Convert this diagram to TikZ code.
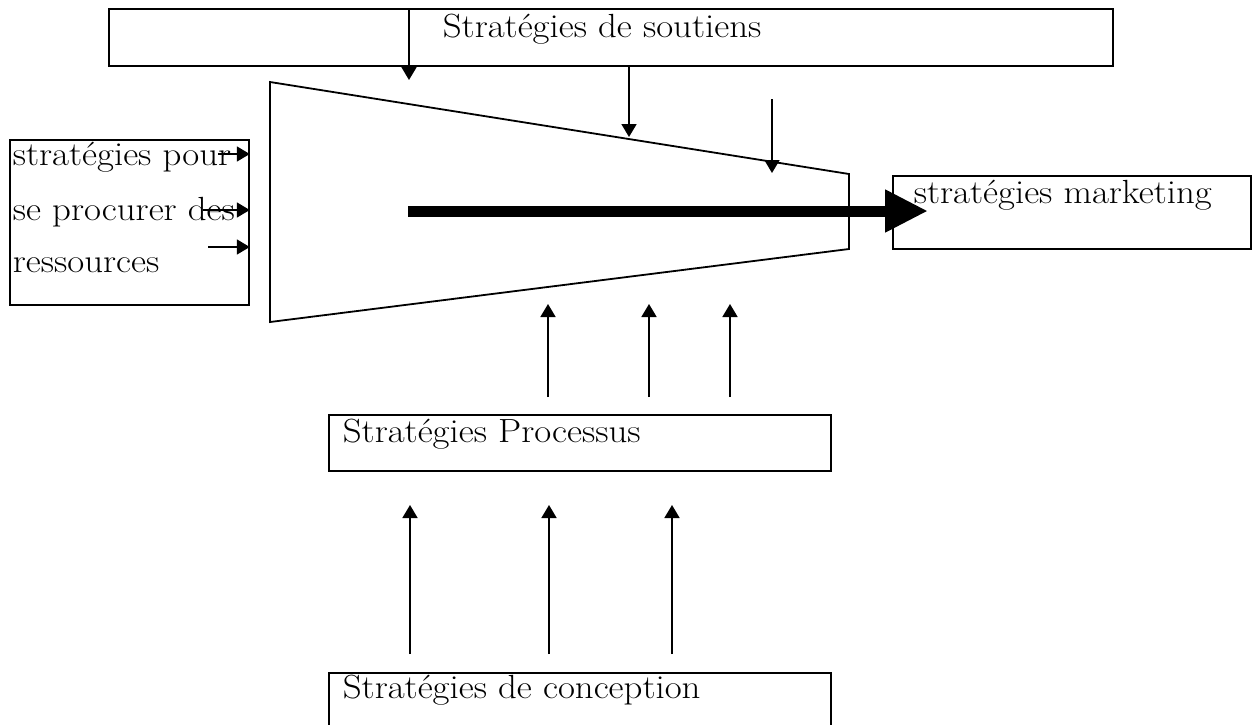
\documentclass[tikz,border=0pt]{standalone}
\usepackage{fontspec}
\setmainfont{Latin Modern Roman}[FakeStretch=1.1]
\usetikzlibrary{arrows.meta}

\begin{document}
\begin{tikzpicture}
  [x=1pt,y=-1pt,line width=1.8pt,
   box/.style={draw,rectangle,inner sep=0pt,anchor=north west},
   txt/.style={inner sep=0pt,anchor=base west,font=\fontsize{33.5}{40}\selectfont},
   pik/.style={-{Triangle[length=13pt,width=15pt]}},
   grosse/.style={line width=11pt,-{Triangle[length=43pt,width=40pt]}}]
  \clip (0,0) rectangle (1257,724);
  \fill[white] (0,0) rectangle (1257,724);

  % les boites
  \node[box,minimum width=1004pt,minimum height=57pt] (sout) at (108,8) {};
  \node[box,minimum width=239pt,minimum height=165pt] (res) at (9,139) {};
  \node[box,minimum width=358pt,minimum height=73pt] (mkt) at (892,175) {};
  \node[box,minimum width=502pt,minimum height=56pt] (proc) at (328,414) {};
  \node[box,minimum width=502pt,minimum height=80pt] (conc) at (328,672) {};

  \node[txt] (tsout) at (442,37) {Stratégies de soutiens};
  \foreach \t/\y [count=\i] in {stratégies pour/165,se procurer des/220,ressources/272}
    \node[txt] (tres\i) at (12,\y) {\t};
  \node[txt] (tmkt) at (913,203) {stratégies marketing};
  \node[txt] (tproc) at (342,442) {Stratégies Processus};
  \node[txt] (tconc) at (342,698) {Stratégies de conception};

  % le trapeze
  \coordinate (ta) at (270,82);
  \coordinate (tb) at (849,174);
  \coordinate (tc) at (849,249);
  \coordinate (td) at (270,322);
  \draw (ta) -- (tb) -- (tc) -- (td) -- cycle;

  % fleches du haut
  \coordinate (h1) at (409,80);
  \coordinate (h2) at (629,137);
  \coordinate (h3a) at (772,99);
  \coordinate (h3) at (772,173);
  \draw[pik] (h1 |- sout.north) -- (h1);
  \draw[pik] (h2 |- sout.south) -- (h2);
  \draw[pik] (h3a) -- (h3);

  % fleches de gauche
  \coordinate (r1) at (218,154);
  \coordinate (r2) at (203,210);
  \coordinate (r3) at (208,247);
  \foreach \r in {r1,r2,r3}
    \draw[pik] (\r) -- (\r -| res.east);

  % grosse fleche
  \coordinate (g1) at (408,211);
  \coordinate (g2) at (928,211);
  \draw[grosse] (g1) -- (g2);

  % fleches du bas
  \foreach \x in {548,649,730}
    \draw[pik] (\x,397) -- (\x,304);
  \foreach \x in {410,549,672}
    \draw[pik] (\x,654) -- (\x,505);
\end{tikzpicture}
\end{document}
